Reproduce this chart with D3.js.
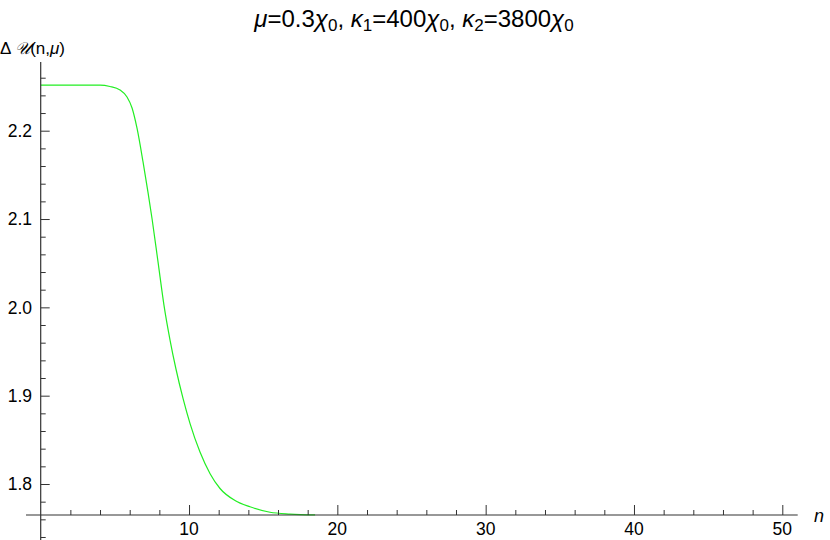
<!DOCTYPE html>
<html>
<head>
<meta charset="utf-8">
<script src="https://cdn.jsdelivr.net/npm/d3@7"></script>
<style>
  html, body { margin: 0; padding: 0; background: #fff; }
  svg { display: block; font-family: "Liberation Sans", Arial, sans-serif; }
</style>
</head>
<body>
<svg id="chart" width="830" height="540"></svg>
<script>
// ---- data ----
const nValues = [0, 4.0, 4.67, 5.35, 5.82, 6.16, 6.49, 6.9, 7.24, 7.51, 7.91, 8.31, 8.72, 9.12, 9.6, 10.07, 10.74, 11.42, 12.09, 13.1, 14.11, 15.46, 16.81, 18.5];
const uValues = [2.2517, 2.2515, 2.2500, 2.2461, 2.2381, 2.2257, 2.2031, 2.1646, 2.1295, 2.1000, 2.0514, 2.0026, 1.9630, 1.9302, 1.8966, 1.8684, 1.8362, 1.8117, 1.7949, 1.7813, 1.7742, 1.7680, 1.7660, 1.7651];
const xMajorTicks = [10, 20, 30, 40, 50];
const yMajorTicks = [1.8, 1.9, 2.0, 2.1, 2.2];
const yTickLabels = ["1.8", "1.9", "2.0", "2.1", "2.2"];

// ---- layout ----
const svg = d3.select("#chart");
const x = d3.scaleLinear().domain([0, 50]).range([40.7, 782.3]);
const y = d3.scaleLinear().domain([1.8, 2.2]).range([484, 130.7]);
const axisY = 1.7649;   // where the horizontal axis crosses
const axisColor = "#333";

// minor ticks
const xMinor = d3.range(2, 50.001, 2).filter(v => v % 10 !== 0);
const yMinor = d3.range(1.74, 2.2601, 0.02).map(v => +v.toFixed(2)).filter(v => Math.abs(v * 10 - Math.round(v * 10)) > 1e-6);

// curve
const line = d3.line().x((d, i) => x(nValues[i])).y(d => y(d)).curve(d3.curveMonotoneX);
svg.append("path")
  .attr("d", line(uValues))
  .attr("fill", "none")
  .attr("stroke", "#22ee22")
  .attr("stroke-width", 1.2);

// x axis
const xAxis = d3.axisTop(x).tickValues(xMajorTicks).tickSize(10).tickFormat("");
const gx = svg.append("g").attr("transform", `translate(0,${y(axisY)})`).call(xAxis);
gx.select(".domain").remove();
gx.selectAll(".tick line").attr("stroke", axisColor);
const xAxisMinor = d3.axisTop(x).tickValues(xMinor).tickSize(5).tickFormat("");
const gxm = svg.append("g").attr("transform", `translate(0,${y(axisY)})`).call(xAxisMinor);
gxm.select(".domain").remove();
gxm.selectAll(".tick line").attr("stroke", axisColor);
svg.append("line")
  .attr("x1", 26).attr("x2", 797.7)
  .attr("y1", y(axisY)).attr("y2", y(axisY))
  .attr("stroke", axisColor).attr("stroke-width", 1.2);
svg.append("g").selectAll("text").data(xMajorTicks).join("text")
  .attr("x", d => x(d)).attr("y", 535)
  .attr("text-anchor", "middle")
  .attr("font-size", 17.5).attr("fill", "#000")
  .text(d => d);
svg.append("text").attr("x", 814).attr("y", 522)
  .attr("font-size", 18).attr("font-style", "italic").text("n");

// y axis
const yAxis = d3.axisRight(y).tickValues(yMajorTicks).tickSize(9).tickFormat("");
const gy = svg.append("g").attr("transform", `translate(${x(0)},0)`).call(yAxis);
gy.select(".domain").remove();
gy.selectAll(".tick line").attr("stroke", axisColor);
const yAxisMinor = d3.axisRight(y).tickValues(yMinor).tickSize(5).tickFormat("");
const gym = svg.append("g").attr("transform", `translate(${x(0)},0)`).call(yAxisMinor);
gym.select(".domain").remove();
gym.selectAll(".tick line").attr("stroke", axisColor);
svg.append("line")
  .attr("x1", x(0)).attr("x2", x(0))
  .attr("y1", 62).attr("y2", 540)
  .attr("stroke", axisColor).attr("stroke-width", 1.2);
svg.append("g").selectAll("text").data(yMajorTicks).join("text")
  .attr("x", 32).attr("y", d => y(d) + 6.3)
  .attr("text-anchor", "end")
  .attr("font-size", 17.5).attr("fill", "#000")
  .text((d, i) => yTickLabels[i]);

// y label
const yl = svg.append("text").attr("x", 0).attr("y", 54).attr("font-size", 17);
yl.append("tspan").text("Δ ");
yl.append("tspan").attr("font-family", "DejaVu Serif, serif").attr("font-style", "italic").text("𝒰");
yl.append("tspan").text("(n,");
yl.append("tspan").attr("font-style", "italic").text("μ");
yl.append("tspan").text(")");

// title
const t = svg.append("text").attr("x", 414).attr("y", 27).attr("text-anchor", "middle").attr("font-size", 24);
const parts = [["μ", "i"], ["=0.3", ""], ["χ", "i"], ["0", "s"], [", ", ""], ["κ", "i"], ["1", "s"], ["=400", ""], ["χ", "i"], ["0", "s"], [", ", ""], ["κ", "i"], ["2", "s"], ["=3800", ""], ["χ", "i"], ["0", "s"]];
let prevSub = false;
parts.forEach(([txt, kind]) => {
  const ts = t.append("tspan").text(txt);
  if (kind === "i") ts.attr("font-style", "italic");
  if (kind === "s") { ts.attr("font-size", 17).attr("dy", 4); prevSub = true; }
  else if (prevSub) { ts.attr("dy", -4); prevSub = false; }
});
</script>
</body>
</html>
